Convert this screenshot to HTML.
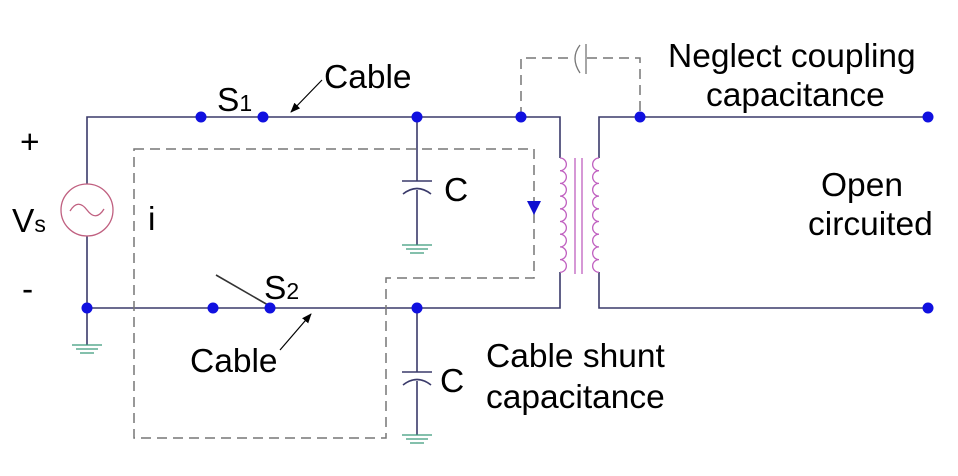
<!DOCTYPE html>
<html><head><style>body{margin:0;background:#fff}svg{display:block}text{font-family:"Liberation Sans",sans-serif;fill:#000}</style></head><body>
<svg width="958" height="476" viewBox="0 0 958 476" xmlns="http://www.w3.org/2000/svg">
<defs><marker id="ar" markerWidth="10" markerHeight="8" refX="9" refY="4" orient="auto" markerUnits="userSpaceOnUse"><path d="M0,0 L10,4 L0,8 Z" fill="#000"/></marker></defs>
<g stroke="#3a3a6a" stroke-width="1.6" fill="none">
<path d="M87,184 V117 H560 V158"/>
<path d="M560,272 V308 H87"/>
<path d="M87,236 V308 V345"/>
<path d="M599,158 V117 H928"/>
<path d="M599,272 V308 H928"/>
<path d="M417,117 V181 M417,190 V245"/>
<path d="M417,308 V372 M417,381 V435"/>
<path d="M402,181 H432"/>
<path d="M403,194 Q417,183 431,194"/>
<path d="M402,372 H432"/>
<path d="M403,385 Q417,374 431,385"/>
<path d="M216,275 L268,305" stroke="#333"/>
</g>
<g stroke="#3a9a7a" stroke-width="1.3">
<path d="M72,345 H102 M76,349 H98 M80,353 H94"/>
<path d="M402,245 H432 M406,249 H428 M410,253 H424"/>
<path d="M402,435 H432 M406,439 H428 M410,443 H424"/>
</g>
<circle cx="87" cy="210" r="26" fill="none" stroke="#c06080" stroke-width="1.3"/>
<path d="M70,211 Q78,198 87,210 Q96,222 104,209" fill="none" stroke="#c06080" stroke-width="1.3"/>
<g stroke="#c060c0" stroke-width="1.3" fill="none">
<path d="M560,158 a6,6 0 0 1 0,12.7 a6,6 0 0 1 0,12.7 a6,6 0 0 1 0,12.7 a6,6 0 0 1 0,12.7 a6,6 0 0 1 0,12.7 a6,6 0 0 1 0,12.7 a6,6 0 0 1 0,12.7 a6,6 0 0 1 0,12.7 a6,6 0 0 1 0,12.7"/>
<path d="M599,158 a6,6 0 0 0 0,12.7 a6,6 0 0 0 0,12.7 a6,6 0 0 0 0,12.7 a6,6 0 0 0 0,12.7 a6,6 0 0 0 0,12.7 a6,6 0 0 0 0,12.7 a6,6 0 0 0 0,12.7 a6,6 0 0 0 0,12.7 a6,6 0 0 0 0,12.7"/>
<path d="M575,158 V274 M582,158 V274"/>
</g>
<g stroke="#777" stroke-width="1.5" fill="none" stroke-dasharray="10,6">
<path d="M134,149 H534 V278 H386 V438 H134 Z"/>
<path d="M521,117 V58 H574 M587,58 H640 V117"/>
</g>
<path d="M580,45 Q570,58 580,73 M586,44 V74" stroke="#777" stroke-width="1.3" fill="none"/>
<path d="M527,201 L541,201 L534,215 Z" fill="#1010d0"/>
<g stroke="#000" stroke-width="1.2"><line x1="322" y1="80" x2="291" y2="112" marker-end="url(#ar)"/><line x1="280" y1="350" x2="311" y2="314" marker-end="url(#ar)"/></g>
<g fill="#1010e0">
<circle cx="201" cy="117" r="5.5"/><circle cx="263" cy="117" r="5.5"/><circle cx="417" cy="117" r="5.5"/><circle cx="521" cy="117" r="5.5"/><circle cx="640" cy="117" r="5.5"/><circle cx="928" cy="117" r="5.5"/>
<circle cx="87" cy="308" r="5.5"/><circle cx="213" cy="308" r="5.5"/><circle cx="270" cy="308" r="5.5"/><circle cx="417" cy="308" r="5.5"/><circle cx="928" cy="308" r="5.5"/>
</g>
<g font-size="33.5">
<text x="20" y="153">+</text>
<text x="22" y="300">-</text>
<text x="12" y="232">V<tspan font-size="23">s</tspan></text>
<text x="148" y="230">i</text>
<text x="217" y="111">S<tspan font-size="23">1</tspan></text>
<text x="264" y="299">S<tspan font-size="23">2</tspan></text>
<text x="324" y="88">Cable</text>
<text x="190" y="372">Cable</text>
<text x="444" y="201">C</text>
<text x="440" y="392">C</text>
<text x="486" y="367">Cable shunt</text>
<text x="486" y="408">capacitance</text>
<text x="668" y="67">Neglect coupling</text>
<text x="706" y="106">capacitance</text>
<text x="821" y="196">Open</text>
<text x="808" y="235">circuited</text>
</g>
</svg>
</body></html>
